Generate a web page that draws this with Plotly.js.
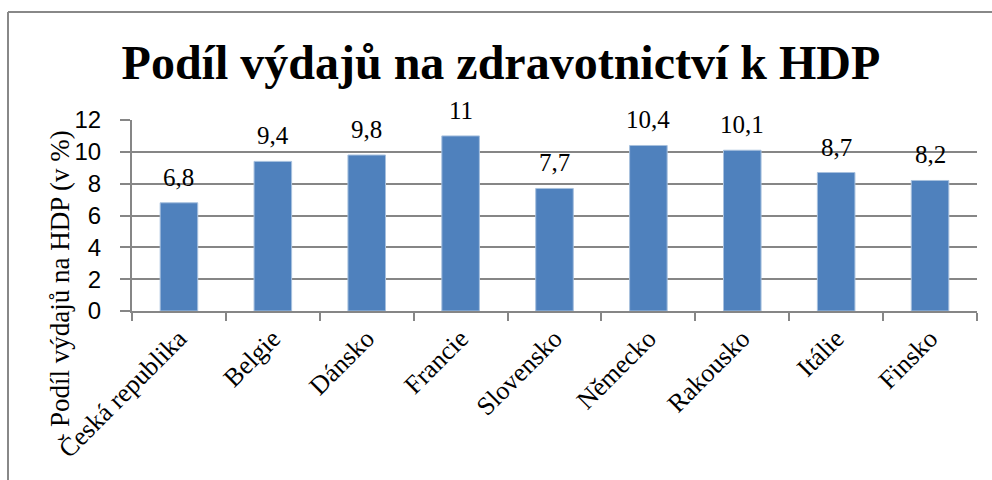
<!DOCTYPE html>
<html>
<head>
<meta charset="utf-8">
<script src="https://cdn.plot.ly/plotly-3.0.1.min.js"></script>
<style>html,body{margin:0;padding:0;background:#fff;}#chart{width:992px;height:480px;}</style>
</head>
<body>
<div id="chart"></div>
<script>
const categories = ["Česká republika", "Belgie", "Dánsko", "Francie", "Slovensko", "Německo", "Rakousko", "Itálie", "Finsko"];
const values = [6.8, 9.4, 9.8, 11, 7.7, 10.4, 10.1, 8.7, 8.2];
const yTicks = [0, 2, 4, 6, 8, 10, 12];
const titleText = "Podíl výdajů na zdravotnictví k HDP";
const yTitleText = "Podíl výdajů na HDP (v %)";

const serif = "Liberation Serif";
const sans = "Liberation Sans";
const grid = "#868686";

const trace = {
  type: "bar",
  x: categories,
  y: values,
  marker: {color: "#4F81BD", line: {color: "#A7C0DE", width: 1}},
  hoverinfo: "skip"
};

const labelAnnotations = categories.map((c, i) => ({
  x: c, y: values[i], xref: "x", yref: "y",
  text: String(values[i]).replace(".", ","),
  showarrow: false, xanchor: "center", yanchor: "bottom", yshift: 10,
  font: {family: serif, size: 25, color: "#000"}
}));

const layout = {
  width: 992, height: 480,
  margin: {l: 132, r: 15, t: 120, b: 169},
  paper_bgcolor: "#fff", plot_bgcolor: "#fff",
  bargap: 0.6,
  showlegend: false,
  title: {
    text: "<b>" + titleText + "</b>",
    font: {family: serif, size: 48, color: "#000"},
    x: 0.505, xanchor: "center",
    y: 1 - 62/480, yref: "container", yanchor: "middle"
  },
  xaxis: {
    type: "category",
    tickangle: -45,
    tickfont: {family: serif, size: 26, color: "#000"},
    showline: true, linecolor: grid, linewidth: 2,
    ticks: "outside", ticklen: 8, tickcolor: grid, tickwidth: 2,
    tickson: "boundaries",
    showgrid: false,
    fixedrange: true
  },
  yaxis: {
    range: [0, 12],
    tickvals: yTicks,
    tickfont: {family: sans, size: 24, color: "#000"},
    showline: true, linecolor: grid, linewidth: 2,
    ticks: "outside", ticklen: 10, tickcolor: grid, tickwidth: 2,
    ticklabelstandoff: 14,
    showgrid: true, gridcolor: grid, gridwidth: 2,
    zeroline: false,
    fixedrange: true
  },
  annotations: labelAnnotations.concat([{
    text: yTitleText,
    xref: "paper", yref: "paper",
    x: (60 - 132) / 845, y: (311 - 279) / 191,
    xanchor: "center", yanchor: "middle",
    textangle: -90, showarrow: false,
    font: {family: serif, size: 27, color: "#000"}
  }]),
  shapes: [
    {type: "line", xref: "paper", yref: "paper",
     x0: (8 - 132) / 845, x1: (992 - 132) / 845,
     y0: (311 - 12) / 191, y1: (311 - 12) / 191,
     line: {color: "#888", width: 2}},
    {type: "line", xref: "paper", yref: "paper",
     x0: (8 - 132) / 845, x1: (8 - 132) / 845,
     y0: (311 - 12) / 191, y1: (311 - 490) / 191,
     line: {color: "#888", width: 2}}
  ]
};

Plotly.newPlot("chart", [trace], layout, {displayModeBar: false, staticPlot: true});
</script>
</body>
</html>
